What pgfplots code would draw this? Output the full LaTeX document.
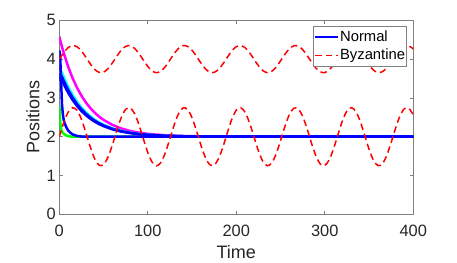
\documentclass[border=0pt]{standalone}
\usepackage{pgfplots}
\pgfplotsset{compat=1.18}
\usepackage{fontspec}
\setmainfont{Liberation Sans}
\definecolor{axgray}{rgb}{0.5,0.5,0.5}
\definecolor{txtgray}{rgb}{0.15,0.15,0.15}
\definecolor{byzred}{rgb}{1,0,0}
\begin{document}
\begin{tikzpicture}
\path (-59.3bp,-48.7bp) rectangle (397.7bp,214.3bp);
\begin{axis}[
  scale only axis, width=354bp, height=194bp,
  xmin=0, xmax=400, ymin=0, ymax=5,
  xtick={0,100,200,300,400}, ytick={0,1,2,3,4,5},
  tick align=inside, major tick length=3.5bp,
  axis line style={draw=axgray, line width=0.6bp},
  tick style={draw=axgray, line width=0.6bp},
  /pgf/number format/assume math mode=true,
  tick label style={font=\fontsize{16.4bp}{19bp}\selectfont, text=txtgray},
  xticklabel style={anchor=base, yshift=-21.7bp},
  label style={font=\fontsize{18bp}{21bp}\selectfont, text=txtgray},
  xlabel={Time}, ylabel={Positions},
  xlabel style={at={(axis description cs:0.5,-0.2268)}, anchor=base},
  ylabel style={at={(axis description cs:-0.0565,0.5)}, anchor=base},
  legend cell align=left,
  legend style={at={(axis description cs:0.9822,0.9722)}, anchor=north east,
    draw=axgray, line width=0.6bp, fill=white,
    font=\fontsize{14.8bp}{17bp}\selectfont,
    inner xsep=0.8bp, inner ysep=2bp, row sep=1bp,
    nodes={inner xsep=0.8bp, inner ysep=1.3bp, text height=12bp, text depth=3bp}},
]
\addlegendimage{legend image code/.code={\draw[draw=blue, line width=2.5bp] (0bp,0bp) -- (23bp,0bp);}}
\addlegendentry{Normal}
\addlegendimage{legend image code/.code={\draw[draw=byzred, line width=1.5bp, dash pattern=on 6.5bp off 4bp] (0bp,0bp) -- (23bp,0bp);}}
\addlegendentry{Byzantine}
% green
\addplot[forget plot, color={rgb,1:red,0;green,1;blue,0}, line width=2.5bp] coordinates {
(0,2.82) (0.5,2.6) (1,2.38) (2,2.2) (3,2.13) (4,2.1) (5,2.08) (7,2.04) (10,2.015) (14,2.0) (400,2.0)};
% magenta
\addplot[forget plot, color={rgb,1:red,1;green,0;blue,1}, line width=2.5bp] coordinates {
(0,4.58) (2,4.402) (5,4.158) (10,3.805) (15,3.510) (20,3.263) (25,3.057) (30,2.884) (35,2.739) (40,2.618) (45,2.517) (50,2.433) (60,2.303) (70,2.212) (80,2.148) (90,2.104) (100,2.072) (120,2.036) (140,2.017) (170,2.006) (200,2.002) (400,2.0)};
% cyan
\addplot[forget plot, color={rgb,1:red,0;green,1;blue,1}, line width=2.5bp] coordinates {
(0,3.52) (1,3.6) (2,3.64) (3,3.65) (5,3.539) (10,3.287) (15,3.077) (20,2.901) (25,2.753) (30,2.630) (35,2.527) (40,2.441) (45,2.369) (50,2.309) (60,2.216) (70,2.151) (80,2.106) (90,2.074) (100,2.052) (120,2.025) (140,2.012) (170,2.004) (200,2.001) (400,2.0)};
% blue band 2
\addplot[forget plot, color=blue, line width=2.5bp] coordinates {
(0,3.45) (1,3.5) (2,3.48) (3,3.455) (5,3.355) (10,3.134) (15,2.948) (20,2.793) (25,2.663) (30,2.555) (35,2.464) (40,2.388) (45,2.325) (50,2.272) (60,2.190) (70,2.133) (80,2.093) (90,2.065) (100,2.046) (120,2.022) (140,2.011) (170,2.004) (200,2.001) (400,2.0)};
% fast blue
\addplot[forget plot, color=blue, line width=2.5bp] coordinates {
(0,4.23) (1,4.08) (2,3.45) (3,2.85) (4,2.58) (5,2.43) (6,2.35) (8,2.24) (10,2.16) (12,2.11) (15,2.06) (20,2.02) (25,2.005) (30,2.0) (400,2.0)};
% blue band 1
\addplot[forget plot, color=blue, line width=2.5bp] coordinates {
(0,3.56) (1,3.6) (2,3.58) (3,3.545) (5,3.439) (10,3.203) (15,3.007) (20,2.842) (25,2.704) (30,2.589) (35,2.493) (40,2.412) (45,2.345) (50,2.288) (60,2.202) (70,2.141) (80,2.099) (90,2.069) (100,2.048) (120,2.024) (140,2.012) (170,2.004) (200,2.001) (400,2.0)};
% byzantine lower
\addplot[forget plot, color=red, line width=1.5bp, dash pattern=on 6.5bp off 4bp, smooth] coordinates {
(0,2.000) (5,2.360) (10,2.631) (15,2.748) (20,2.682) (25,2.449) (30,2.106) (35,1.737) (40,1.432) (45,1.267)
(50,1.281) (55,1.471) (60,1.790) (65,2.161) (70,2.493) (75,2.704) (80,2.742) (85,2.599) (90,2.309) (95,1.944)
(100,1.592) (105,1.340) (110,1.250) (115,1.343) (120,1.598) (125,1.950) (130,2.315) (135,2.603) (140,2.743) (145,2.701)
(150,2.488) (155,2.155) (160,1.784) (165,1.466) (170,1.279) (175,1.268) (180,1.437) (185,1.743) (190,2.112) (195,2.454)
(200,2.685) (205,2.748) (210,2.628) (215,2.354) (220,1.993) (225,1.635) (230,1.365) (235,1.252) (240,1.321) (245,1.556)
(250,1.901) (255,2.269) (260,2.572) (265,2.734) (270,2.717) (275,2.524) (280,2.203) (285,1.832) (290,1.502) (295,1.294)
(300,1.259) (305,1.405) (310,1.697) (315,2.063) (320,2.414) (325,2.663) (330,2.750) (335,2.653) (340,2.397) (345,2.043)
(350,1.679) (355,1.393) (360,1.256) (365,1.301) (370,1.517) (375,1.852) (380,2.222) (385,2.539) (390,2.723) (395,2.730)
(400,2.559)};
% byzantine upper
\addplot[forget plot, color=red, line width=1.5bp, dash pattern=on 6.5bp off 4bp, smooth] coordinates {
(0,4.000) (5,4.168) (10,4.295) (15,4.349) (20,4.318) (25,4.209) (30,4.049) (35,3.877) (40,3.735) (45,3.658)
(50,3.664) (55,3.753) (60,3.902) (65,4.075) (70,4.230) (75,4.328) (80,4.346) (85,4.279) (90,4.144) (95,3.974)
(100,3.810) (105,3.692) (110,3.650) (115,3.694) (120,3.812) (125,3.977) (130,4.147) (135,4.281) (140,4.347) (145,4.327)
(150,4.228) (155,4.072) (160,3.899) (165,3.751) (170,3.664) (175,3.659) (180,3.737) (185,3.880) (190,4.052) (195,4.212)
(200,4.320) (205,4.349) (210,4.293) (215,4.165) (220,3.997) (225,3.829) (230,3.704) (235,3.651) (240,3.683) (245,3.793)
(250,3.954) (255,4.126) (260,4.267) (265,4.343) (270,4.335) (275,4.245) (280,4.095) (285,3.922) (290,3.768) (295,3.671)
(300,3.654) (305,3.722) (310,3.859) (315,4.029) (320,4.193) (325,4.309) (330,4.350) (335,4.305) (340,4.185) (345,4.020)
(350,3.850) (355,3.717) (360,3.653) (365,3.674) (370,3.775) (375,3.931) (380,4.104) (385,4.251) (390,4.337) (395,4.341)
(400,4.261)};
\end{axis}
\end{tikzpicture}
\end{document}
